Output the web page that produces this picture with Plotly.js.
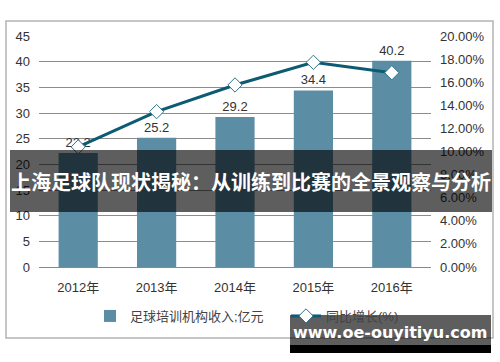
<!DOCTYPE html>
<html>
<head>
<meta charset="utf-8">
<script src="https://cdn.plot.ly/plotly-3.0.1.min.js"></script>
<style>html,body{margin:0;padding:0;background:#fff;}#chart{width:500px;height:362px;}</style>
</head>
<body>
<div id="chart"></div>
<script>
var years = ["2012年", "2013年", "2014年", "2015年", "2016年"];
var revenue = [22.2, 25.2, 29.2, 34.4, 40.2];
var growth = [0.104, 0.1345, 0.1576, 0.1772, 0.1682];
var revenueName = "足球培训机构收入;亿元";
var growthName = "同比增长(%)";
var bannerText = "上海足球队现状揭秘：从训练到比赛的全景观察与分析";
var watermarkText = "www.oe-ouyitiyu.com";

var W = 500, H = 362, L = 39, R = 69, T = 36, B = 95;
var pw = W - L - R, ph = H - T - B;
function px(x) { return (x - L) / pw; }
function py(y) { return (H - B - y) / ph; }

var font = "Liberation Sans, Arial, Noto Sans CJK SC, sans-serif";

var traces = [
  {
    type: "bar", x: years, y: revenue, name: revenueName, legend: "legend",
    marker: {color: "#5b8ea5"}, width: 0.5,
    text: revenue.map(function(v){ return v.toFixed(1); }),
    textposition: "outside", cliponaxis: false,
    textfont: {size: 13, color: "#333", family: font},
    hoverinfo: "none"
  },
  {
    type: "scatter", mode: "lines+markers", x: years, y: growth, yaxis: "y2",
    name: growthName, legend: "legend2",
    line: {color: "#0d5b72", width: 3},
    marker: {symbol: "diamond", size: 11, color: "#ffffff", line: {color: "#2f7289", width: 1}},
    cliponaxis: false, hoverinfo: "none"
  }
];

var legendBase = {orientation: "h", xanchor: "left", y: py(316), yanchor: "middle",
                  font: {size: 13, color: "#444"}, itemwidth: 30, bgcolor: "rgba(0,0,0,0)"};

var layout = {
  width: W, height: H,
  margin: {l: L, r: R, t: T, b: B},
  paper_bgcolor: "#fff", plot_bgcolor: "#fff",
  font: {family: font, size: 13, color: "#333"},
  showlegend: true,
  legend: Object.assign({}, legendBase, {x: px(90)}),
  legend2: Object.assign({}, legendBase, {x: px(286)}),
  bargap: 0.5,
  xaxis: {type: "category", range: [-0.5, 4.5], showgrid: false, zeroline: false,
          showline: true, linecolor: "#888", linewidth: 1, ticks: "",
          ticklabelstandoff: 8, tickfont: {size: 13, color: "#333"}, fixedrange: true},
  yaxis: {range: [0, 45], dtick: 5, showgrid: true, gridcolor: "#8c8c8c", gridwidth: 1,
          zeroline: false, showline: false, ticks: "", ticklabelstandoff: 8,
          tickfont: {size: 13, color: "#333"}, fixedrange: true},
  yaxis2: {overlaying: "y", side: "right", range: [0, 0.2], dtick: 0.02, tickformat: ".2%",
           showgrid: false, zeroline: false, showline: false, ticks: "", ticklabelstandoff: 8,
           tickfont: {size: 13, color: "#333"}, fixedrange: true},
  shapes: [
    {type: "rect", xref: "paper", yref: "paper", x0: px(6), x1: px(493), y0: py(21), y1: py(338),
     line: {color: "#b4b4b4", width: 1.5}, fillcolor: "rgba(0,0,0,0)", layer: "below"},
    {type: "rect", xref: "paper", yref: "paper", x0: px(10), x1: px(492), y0: py(150), y1: py(212),
     line: {width: 0}, fillcolor: "rgba(0,0,0,0.63)", layer: "above"},
    {type: "rect", xref: "paper", yref: "paper", x0: px(290), x1: px(491), y0: py(315), y1: py(345),
     line: {width: 0}, fillcolor: "rgba(0,0,0,0.63)", layer: "above"},
    {type: "rect", xref: "paper", yref: "paper", x0: px(290), x1: px(491), y0: py(345), y1: py(353),
     line: {width: 0}, fillcolor: "#000", layer: "above"}
  ],
  annotations: [
    {xref: "paper", yref: "paper", x: px(251), y: py(181), xanchor: "center", yanchor: "middle",
     text: "<b>" + bannerText + "</b>", showarrow: false,
     font: {family: "Noto Sans CJK SC, sans-serif", size: 20, color: "#fff"}},
    {xref: "paper", yref: "paper", x: px(390), y: py(333), xanchor: "center", yanchor: "middle",
     text: "<b>" + watermarkText + "</b>", showarrow: false,
     font: {family: "DejaVu Sans, sans-serif", size: 16, color: "#fff"}}
  ]
};

Plotly.newPlot("chart", traces, layout, {displayModeBar: false, staticPlot: true});
</script>
</body>
</html>
